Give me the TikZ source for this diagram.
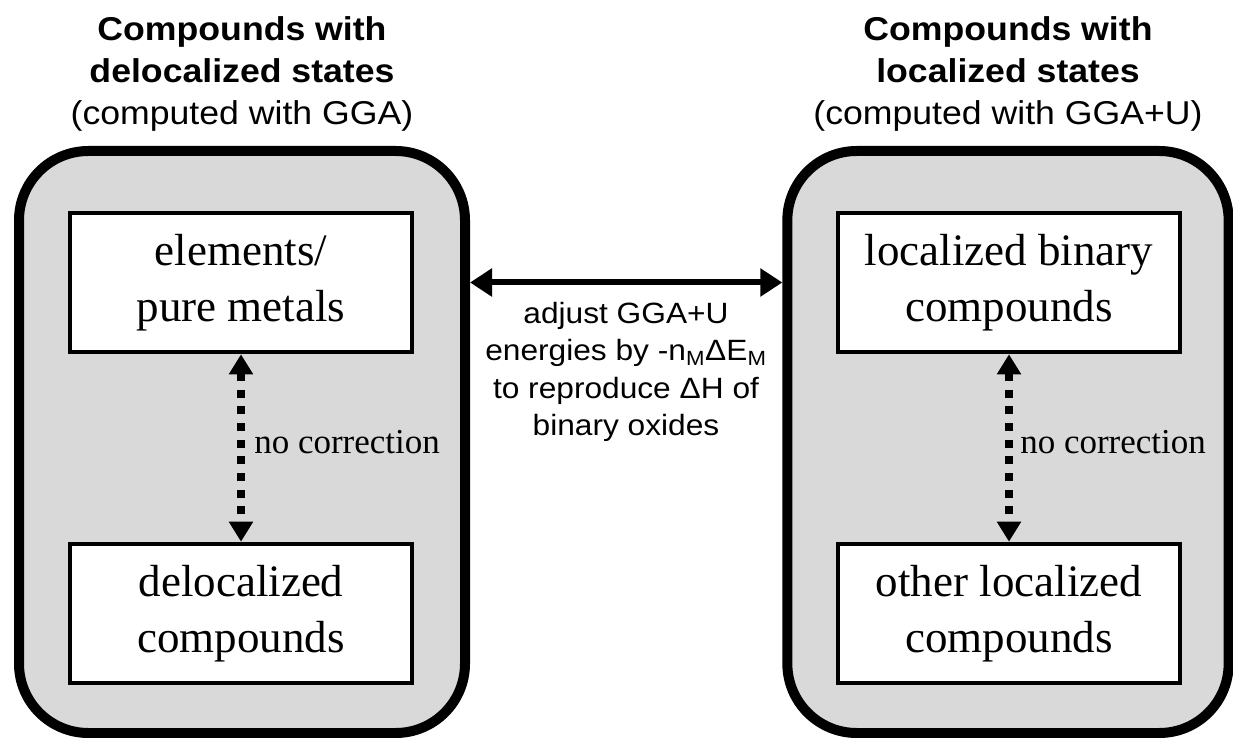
\documentclass[tikz,border=0pt]{standalone}
\usepackage{fontspec}
\setmainfont{Liberation Serif}
\newfontfamily\sansfont[FakeStretch=1.08]{Liberation Sans}
\usetikzlibrary{arrows.meta}
\definecolor{panelgrey}{HTML}{D9D9D9}

\begin{document}
\begin{tikzpicture}[x=0.75pt,y=-0.75pt,
  panel/.style={draw=black, line width=7.5pt, fill=panelgrey,
    rounded corners=52pt, minimum height=436.5pt, inner sep=0pt},
  stepbox/.style={draw=black, line width=3.4pt, fill=white,
    minimum width=256.5pt, minimum height=104.25pt, inner sep=0pt,
    align=center, font=\fontsize{33.75pt}{42pt}\selectfont,
    execute at begin node={\rule{0pt}{30pt}}},
  heading/.style={align=center, inner sep=0pt,
    font=\sansfont\fontsize{24.75pt}{31.5pt}\selectfont},
  note/.style={align=center, inner sep=0pt,
    font=\sansfont\fontsize{22pt}{28pt}\selectfont},
  sidelabel/.style={inner sep=0pt, font=\fontsize{26.25pt}{30pt}\selectfont},
  link/.style={line width=4.5pt,
    {Triangle[length=16.5pt,width=20.25pt]}-{Triangle[length=16.5pt,width=20.25pt]}},
  nocorr/.style={line width=5.8pt, dash pattern=on 6pt off 6.5pt,
    {Triangle[length=15pt,width=17.25pt]}-{Triangle[length=15pt,width=17.25pt]}},
]
\useasboundingbox (0,0) rectangle (1233,738);

% grey panels
\node[panel, minimum width=334.5pt] (L) at (242,442) {};
\node[panel, minimum width=331pt] (R) at (1008,442) {};

% panel headings
\node[heading, anchor=south] (LH) at ([yshift=11pt]L.north)
  {\textbf{Compounds with}\\\textbf{delocalized states}\\(computed with GGA)};
\node[heading, anchor=south] (RH) at ([yshift=11pt]R.north)
  {\textbf{Compounds with}\\\textbf{localized states}\\(computed with GGA+U)};

% compound classes
\node[stepbox] (LT) at (241,282.5) {elements/\\pure metals};
\node[stepbox] (LB) at (241,613.5) {delocalized\\compounds};
\node[stepbox] (RT) at (1009,282.5) {localized binary\\compounds};
\node[stepbox] (RB) at (1009,613.5) {other localized\\compounds};

% links inside each panel
\draw[nocorr] (LT.south) -- (LB.north);
\draw[nocorr] (RT.south) -- (RB.north);
\node[sidelabel, anchor=base west] (LN) at (254,453) {no correction};
\node[sidelabel, anchor=base west] (RN) at (1020,453) {no correction};

% link between the panels
\draw[link] (LT.east -| L.east) -- (LT.east -| R.west);
\node[note, anchor=north] (N) at (626,302)
  {adjust GGA+U\\energies by -n\textsubscript{M}ΔE\textsubscript{M}\\to reproduce ΔH of\\binary oxides};
\end{tikzpicture}
\end{document}
